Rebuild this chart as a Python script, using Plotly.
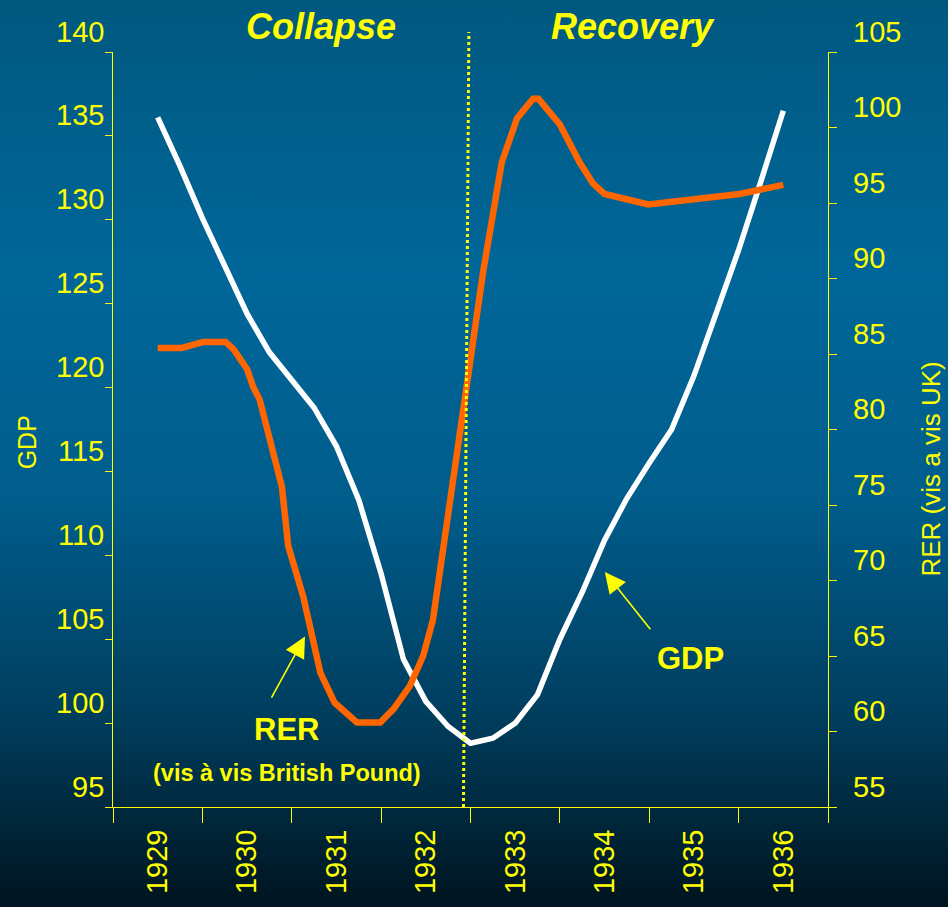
import base64
import plotly.graph_objects as go

# ---- data -------------------------------------------------------------
# GDP index, quarterly, mid-1929 to mid-1936 (left axis)
GDP_X = [1929.5, 1929.75, 1930.0, 1930.25, 1930.5, 1930.75, 1931.0, 1931.25,
         1931.5, 1931.75, 1932.0, 1932.25, 1932.5, 1932.75, 1933.0, 1933.25,
         1933.5, 1933.75, 1934.0, 1934.25, 1934.5, 1934.75, 1935.0, 1935.25,
         1935.5, 1935.75, 1936.0, 1936.25, 1936.5]
GDP = [136.1, 133.2, 130.1, 127.3, 124.4, 122.1, 120.4, 118.8, 116.5, 113.3,
       108.9, 103.8, 101.3, 99.8, 98.8, 99.1, 100.0, 101.7, 105.0, 107.8,
       110.9, 113.4, 115.5, 117.5, 120.7, 124.4, 128.2, 132.3, 136.5]

# Real exchange rate vis a vis the British pound (right axis)
RER_X = [1929.5, 1929.77, 1930.01, 1930.26, 1930.35, 1930.5, 1930.57, 1930.64,
         1930.89, 1930.96, 1931.13, 1931.32, 1931.48, 1931.73, 1931.99, 1932.14,
         1932.32, 1932.47, 1932.58, 1932.71, 1932.83, 1932.96, 1933.14, 1933.35,
         1933.52, 1933.7, 1933.76, 1934.0, 1934.22, 1934.37, 1934.5, 1934.99,
         1936.01, 1936.5]
RER = [85.4, 85.4, 85.8, 85.8, 85.3, 84.0, 82.8, 82.0, 76.2, 72.3, 68.9, 63.9,
       61.9, 60.6, 60.6, 61.5, 63.0, 65.0, 67.4, 72.9, 77.7, 83.1, 90.4, 97.7,
       100.6, 101.9, 101.9, 100.2, 97.7, 96.3, 95.6, 94.9, 95.6, 96.2]

YEARS = ["1929", "1930", "1931", "1932", "1933", "1934", "1935", "1936"]
YEAR_EDGES = [1929, 1930, 1931, 1932, 1933, 1934, 1935, 1936, 1937]
YEAR_MIDS = [1929.5, 1930.5, 1931.5, 1932.5, 1933.5, 1934.5, 1935.5, 1936.5]
GDP_TICKS = [95, 100, 105, 110, 115, 120, 125, 130, 135, 140]
RER_TICKS = [55, 60, 65, 70, 75, 80, 85, 90, 95, 100, 105]

# ---- styling ------------------------------------------------------------
W, H = 948, 907
ML, MR, MT, MB = 113, 120, 52, 100
PW, PH = W - ML - MR, H - MT - MB
YELLOW = "#FFFF00"
ORANGE = "#FF6600"
FONT = "Liberation Sans, Arial, sans-serif"

# Vertical divider between the two phases (bottom, top)
DIVIDER_X = (1932.921, 1932.982)

# Background gradient drawn as an SVG layer behind the whole figure
stops = [(0.00, "#00587f"), (0.30, "#006699"), (0.55, "#005d8c"),
         (0.78, "#003f60"), (1.00, "#00141f")]
stop_xml = "".join(f'<stop offset="{o}" stop-color="{c}"/>' for o, c in stops)
svg = (f'<svg xmlns="http://www.w3.org/2000/svg" width="{W}" height="{H}" '
       f'viewBox="0 0 {W} {H}" preserveAspectRatio="none"><defs>'
       f'<linearGradient id="g" x1="0" y1="0" x2="0" y2="1">{stop_xml}'
       f'</linearGradient></defs><rect width="{W}" height="{H}" fill="url(#g)"/></svg>')
bg_uri = "data:image/svg+xml;base64," + base64.b64encode(svg.encode()).decode()

fig = go.Figure()
fig.add_trace(go.Scatter(x=GDP_X, y=GDP, mode="lines", yaxis="y",
                         line=dict(color="#FFFFFF", width=5.5), hoverinfo="skip"))
fig.add_trace(go.Scatter(x=RER_X, y=RER, mode="lines", yaxis="y2",
                         line=dict(color=ORANGE, width=6.5), hoverinfo="skip"))

annotations = []
# y tick labels sit a little above their tick marks
for v in GDP_TICKS:
    annotations.append(dict(x=0, xref="paper", y=v, yref="y", text=str(v),
                            showarrow=False, xanchor="right", yanchor="middle",
                            xshift=-7, yshift=20.5,
                            font=dict(family=FONT, size=29, color=YELLOW)))
for v in RER_TICKS:
    annotations.append(dict(x=1, xref="paper", y=v, yref="y2", text=str(v),
                            showarrow=False, xanchor="left", yanchor="middle",
                            xshift=23, yshift=20.5,
                            font=dict(family=FONT, size=29, color=YELLOW)))

# axis titles
annotations.append(dict(x=0, xref="paper", y=0.483, yref="paper", text="GDP",
                        showarrow=False, textangle=-90, xshift=-86,
                        xanchor="center", yanchor="middle",
                        font=dict(family=FONT, size=25, color=YELLOW)))
annotations.append(dict(x=1, xref="paper", y=0.447, yref="paper",
                        text="RER (vis a vis UK)", showarrow=False,
                        textangle=-90, xshift=103,
                        xanchor="center", yanchor="middle",
                        font=dict(family=FONT, size=26, color=YELLOW)))

# phase headings
for label, px in (("Collapse", 0.2906), ("Recovery", 0.7266)):
    annotations.append(dict(x=px, xref="paper", y=1, yref="paper",
                            text=f"<b><i>{label}</i></b>", showarrow=False,
                            xanchor="center", yanchor="middle", yshift=26,
                            font=dict(family=FONT, size=36, color=YELLOW)))

# series call-outs
annotations.append(dict(x=1935.458, y=103.87, xref="x", yref="y",
                        text="<b>GDP</b>", showarrow=False,
                        xanchor="center", yanchor="middle",
                        font=dict(family=FONT, size=31, color=YELLOW)))
annotations.append(dict(x=1930.946, y=99.61, xref="x", yref="y",
                        text="<b>RER</b>", showarrow=False,
                        xanchor="center", yanchor="middle",
                        font=dict(family=FONT, size=31, color=YELLOW)))
annotations.append(dict(x=1930.943, y=97.05, xref="x", yref="y",
                        text="<b>(vis à vis British Pound)</b>", showarrow=False,
                        xanchor="center", yanchor="middle",
                        font=dict(family=FONT, size=23.5, color=YELLOW)))
for hx, hy, ax, ay in ((1934.503, 109.0, 46.7, 58.7),
                       (1931.148, 105.16, -34.3, 62.6)):
    annotations.append(dict(x=hx, y=hy, xref="x", yref="y", text="",
                            showarrow=True, ax=ax, ay=ay, axref="pixel",
                            ayref="pixel", arrowhead=2, arrowsize=2.6,
                            arrowwidth=1.6, arrowcolor=YELLOW, standoff=0))

fig.add_shape(type="line", xref="x", yref="paper",
              x0=DIVIDER_X[0], y0=0, x1=DIVIDER_X[1], y1=1 + 20 / PH,
              line=dict(color=YELLOW, width=3, dash="dot"))

fig.update_layout(
    width=W, height=H,
    margin=dict(l=ML, r=MR, t=MT, b=MB, pad=0, autoexpand=False),
    paper_bgcolor="#00141f", plot_bgcolor="rgba(0,0,0,0)",
    showlegend=False,
    font=dict(family=FONT, color=YELLOW),
    images=[dict(source=bg_uri, xref="paper", yref="paper",
                 x=-ML / PW, y=1 + MT / PH, sizex=W / PW, sizey=H / PH,
                 xanchor="left", yanchor="top", sizing="stretch",
                 layer="below")],
    annotations=annotations,
    xaxis=dict(range=[YEAR_EDGES[0], YEAR_EDGES[-1]], showgrid=False,
               zeroline=False, showline=True, linecolor=YELLOW, linewidth=1,
               automargin=False,
               tickmode="array", tickvals=YEAR_MIDS, ticktext=YEARS,
               ticks="", tickangle=-90, ticklabelstandoff=10,
               tickfont=dict(family=FONT, size=29, color=YELLOW),
               minor=dict(tickmode="array", tickvals=YEAR_EDGES,
                          ticks="outside", ticklen=15, tickwidth=1,
                          tickcolor=YELLOW, showgrid=False)),
    yaxis=dict(range=[GDP_TICKS[0], GDP_TICKS[-1]], showgrid=False,
               zeroline=False, showline=True, linecolor=YELLOW, linewidth=1,
               automargin=False,
               tickmode="array", tickvals=GDP_TICKS, ticks="outside",
               ticklen=7, tickcolor=YELLOW, showticklabels=False),
    yaxis2=dict(range=[RER_TICKS[0], RER_TICKS[-1]], overlaying="y",
                side="right", anchor="x", showgrid=False, zeroline=False,
                showline=True, linecolor=YELLOW, linewidth=1,
                automargin=False,
                tickmode="array", tickvals=RER_TICKS, ticks="outside",
                ticklen=8, tickcolor=YELLOW, showticklabels=False),
)

fig.write_html("out.html")
